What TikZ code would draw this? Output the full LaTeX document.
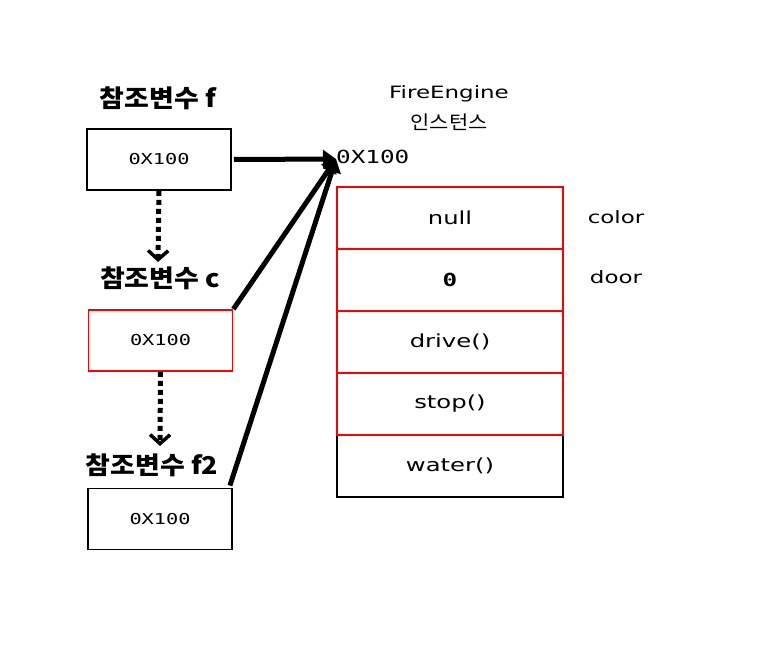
\documentclass[tikz,border=0pt]{standalone}
\usepackage{fontspec}
\setmainfont{Noto Sans CJK KR}
\newfontfamily\krfont[FakeStretch=1.1]{Noto Sans CJK KR}
\newfontfamily\widesans[FakeStretch=1.35]{DejaVu Sans}
\newfontfamily\widemono[FakeStretch=1.35]{DejaVu Sans Mono}
\usetikzlibrary{arrows.meta}
\begin{document}
\begin{tikzpicture}[x=1pt,y=-1pt,
  refbox/.style={draw=black,line width=1.8pt,minimum width=144pt,minimum height=61pt,inner sep=0pt,font=\widemono\fontsize{15}{17}\selectfont},
  redref/.style={refbox,draw=red},
  cell/.style={draw=red,line width=1.8pt,minimum width=226pt,minimum height=62pt,inner sep=0pt,font=\widesans\fontsize{18}{20}\selectfont},
  blackcell/.style={cell,draw=black},
  title/.style={font=\krfont\fontsize{24.5}{26}\selectfont\bfseries},
  plain/.style={font=\widesans\fontsize{17}{19}\selectfont},
  krplain/.style={font=\krfont\fontsize{19}{21}\selectfont},
  dotarrow/.style={line width=5pt,dash pattern=on 5pt off 4pt,-{Straight Barb[length=9pt,width=20pt,line width=3.5pt]}},
  ptr/.style={line width=5pt,-{Triangle[length=13pt,width=18pt]}}
]
\useasboundingbox (0,0) rectangle (758,658);
\fill[white] (0,0) rectangle (758,658);

\node[title] (lf) at (158,98) {참조변수 f};
\node[refbox] (bf) at (159,159.5) {0X100};
\node[title] (lc) at (160,278) {참조변수 c};
\node[redref] (bc) at (160.5,340.5) {0X100};
\node[title] (lf2) at (152,465) {참조변수 f2};
\node[refbox] (bf2) at (160,519) {0X100};

\node[plain] (fe) at (449,94) {FireEngine};
\node[krplain] (inst) at (449,122) {인스턴스};
\node[anchor=west,inner sep=0pt,font=\widemono\fontsize{18}{20}\selectfont] (addr) at (336,157) {0X100};
\coordinate (tip) at (336,159);

\node[blackcell] (r5) at (450,466) {water()};
\node[cell] (r1) at (450,218) {null};
\node[cell,font=\widemono\bfseries\fontsize{18}{20}\selectfont] (r2) at (450,280) {0};
\node[cell] (r3) at (450,342) {drive()};
\node[cell] (r4) at (450,404) {stop()};

\node[plain] (color) at (616,217) {color};
\node[plain] (door) at (616,277) {door};

\draw[dotarrow] (bf.south) -- (158,262);
\draw[dotarrow] (bc.south) -- (160,446);

\draw[ptr] (bf.east) ++(2,0) -- (tip);
\draw[ptr] (bc.north east) -- (tip);
\draw[ptr] (bf2.north east) ++(-3,-2) -- (tip);
\end{tikzpicture}
\end{document}
